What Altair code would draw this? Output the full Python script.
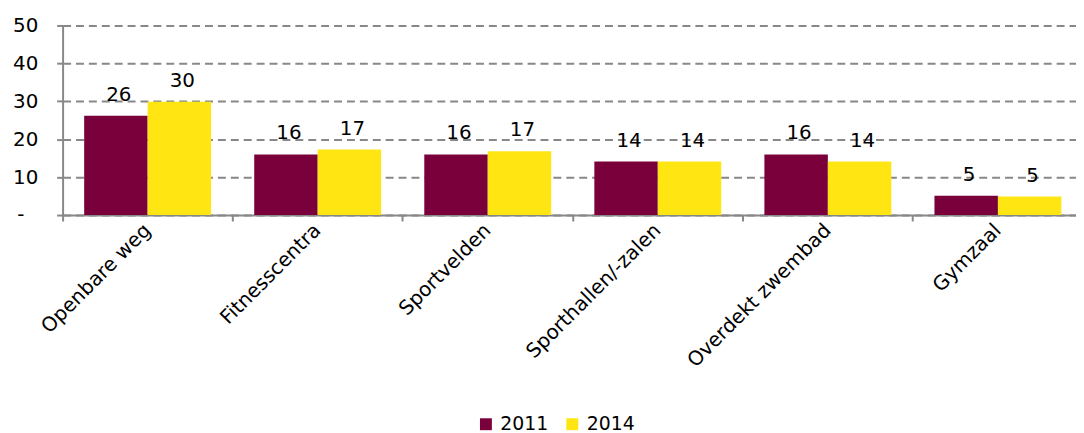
import altair as alt
import pandas as pd

categories = ["Openbare weg", "Fitnesscentra", "Sportvelden", "Sporthallen/-zalen", "Overdekt zwembad", "Gymzaal"]
v2011 = [26.2, 16.0, 16.0, 14.1, 16.0, 5.1]
v2014 = [29.9, 17.3, 16.8, 14.1, 14.1, 4.9]
labels2011 = ["26", "16", "16", "14", "16", "5"]
labels2014 = ["30", "17", "17", "14", "14", "5"]
years = ["2011", "2014"]
colors = ["#7A003C", "#FFE512"]

rows = []
for c, a, b, la, lb in zip(categories, v2011, v2014, labels2011, labels2014):
    rows.append({"cat": c, "year": "2011", "value": a, "label": la})
    rows.append({"cat": c, "year": "2014", "value": b, "label": lb})
df = pd.DataFrame(rows)

FONT = "DejaVu Sans"
FS = 20

x = alt.X("cat:N", sort=categories, title=None,
          scale=alt.Scale(paddingInner=0, paddingOuter=0),
          axis=alt.Axis(labelAngle=-45, labelAlign="right", labelBaseline="middle",
                        labelFontSize=FS, labelFont=FONT, labelColor="#000", labelLimit=400,
                        labelPadding=6, bandPosition=0, tickSize=6, tickColor="#888",
                        domainColor="#888", domainWidth=2, tickWidth=2, grid=False))
xo = alt.XOffset("year:N", scale=alt.Scale(paddingInner=0, paddingOuter=0.34))
y = alt.Y("value:Q", title=None,
          scale=alt.Scale(domain=[0, 50], nice=False),
          axis=alt.Axis(values=[0, 10, 20, 30, 40, 50],
                        labelExpr="datum.value == 0 ? '-' : datum.label",
                        labelFontSize=FS, labelFont=FONT, labelColor="#000",
                        labelPadding={"condition": {"test": "datum.value == 0", "value": 33}, "value": 19},
                        tickSize=6, tickColor="#888", tickWidth=2,
                        domainColor="#888", domainWidth=2,
                        grid=True, gridDash=[8, 5], gridColor="#888", gridWidth=2))

color = alt.Color("year:N", scale=alt.Scale(domain=years, range=colors),
                  legend=alt.Legend(title=None, orient="none", direction="horizontal",
                                    legendX=417, legendY=392, symbolType="square",
                                    symbolSize=144, symbolStrokeWidth=0,
                                    labelFontSize=19, labelFont=FONT, labelColor="#000",
                                    columnPadding=14, labelOffset=5))

bars = alt.Chart(df).mark_bar().encode(x=x, xOffset=xo, y=y, color=color)
text = alt.Chart(df).mark_text(baseline="alphabetic", dy=-15, dx=3, fontSize=FS, font=FONT, color="#000").encode(
    x=x, xOffset=xo, y=y, text="label:N")

chart = (bars + text).properties(
    width=1028, height=191,
    autosize=alt.AutoSizeParams(type="none"),
    padding={"left": 55, "top": 16, "right": -7, "bottom": 218},
).configure_view(stroke=None)

chart.save("out.html", embed_options={"renderer": "svg", "actions": False})
